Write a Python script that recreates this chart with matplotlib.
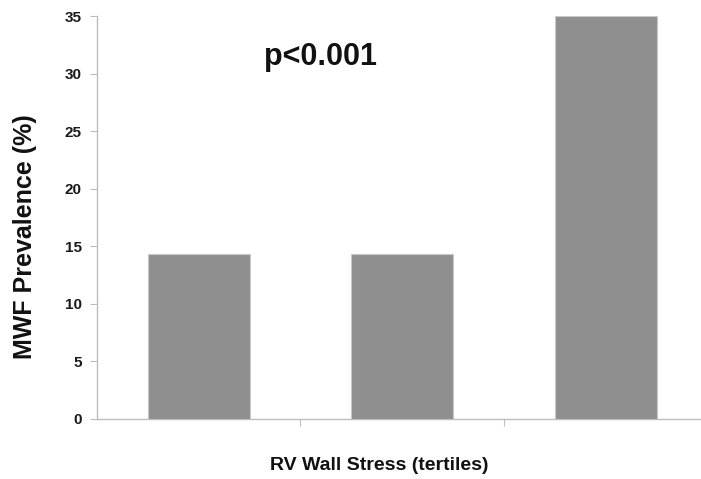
import matplotlib
matplotlib.use("Agg")
import matplotlib.pyplot as plt
from matplotlib import font_manager

# Data
tertiles = ["T1", "T2", "T3"]
prevalence = [14.3, 14.3, 35.0]
y_ticks = [0, 5, 10, 15, 20, 25, 30, 35]

names = {f.name for f in font_manager.fontManager.ttflist}
font = "Liberation Sans Narrow" if "Liberation Sans Narrow" in names else "Liberation Sans"
plt.rcParams["font.family"] = [font, "DejaVu Sans"]

W, H = 701, 479
fig = plt.figure(figsize=(W / 100, H / 100), dpi=100)
ax = fig.add_axes([97 / W, 60 / H, 610.5 / W, 403 / H])

x = range(len(tertiles))
ax.bar(x, prevalence, width=0.5, color="#8f8f8f", edgecolor="#c8c8c8", linewidth=0.8, zorder=3)

ax.set_xlim(-0.5, 2.5)
ax.set_ylim(0, 35)
ax.set_yticks(y_ticks)
ax.set_yticklabels([str(t) for t in y_ticks], fontsize=11, fontweight="bold", color="#1a1a1a")
ax.set_xticks([0.5, 1.5])
ax.set_xticklabels([])

for s in ["top", "right"]:
    ax.spines[s].set_visible(False)
for s in ["left", "bottom"]:
    ax.spines[s].set_color("#bdbdbd")
    ax.spines[s].set_linewidth(1.0)
ax.tick_params(axis="y", direction="out", length=5, color="#bdbdbd", pad=6)
ax.tick_params(axis="x", direction="out", length=5, color="#bdbdbd")

fig.text(25 / W, 1 - 237 / H, "MWF Prevalence (%)", rotation=90, ha="center", va="center",
         fontsize=18, fontweight="bold", color="#111111")
fig.text(379 / W, 1 - 466 / H, "RV Wall Stress (tertiles)", ha="center", va="center",
         fontsize=14, fontweight="bold", color="#111111")
fig.text(321 / W, 1 - 57 / H, "p<0.001", ha="center", va="center",
         fontsize=22, fontweight="bold", color="#111111")

fig.savefig("out.png", dpi=100)
